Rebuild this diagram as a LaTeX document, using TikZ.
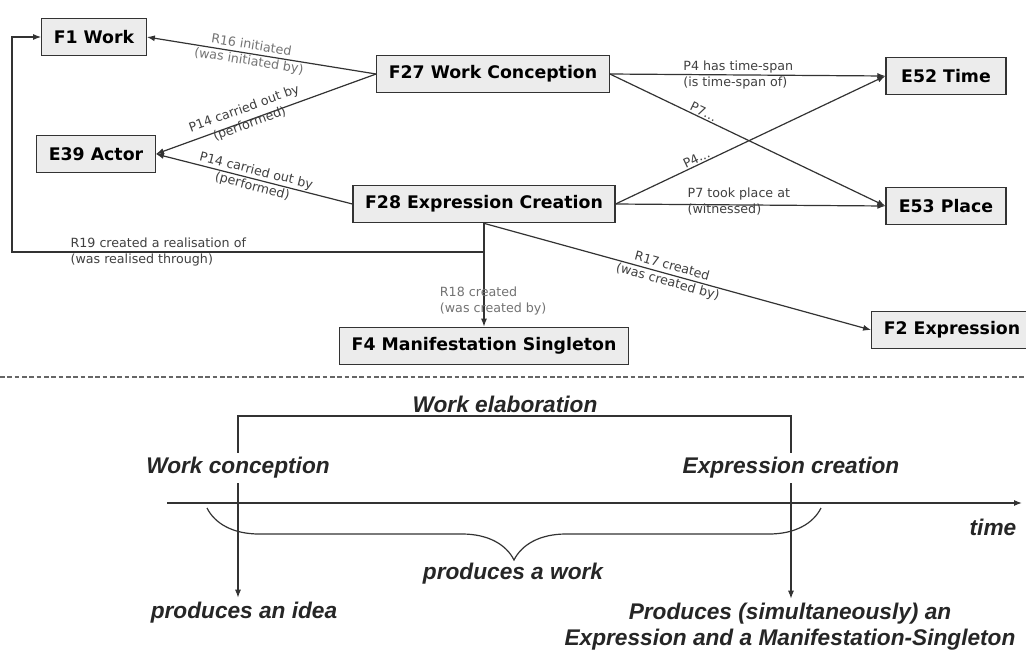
\documentclass[tikz,border=0pt]{standalone}
\usepackage{fontspec}
\usetikzlibrary{arrows.meta,decorations.pathreplacing}
\newfontfamily\boxfont{DejaVu Sans}
\newfontfamily\relfont{DejaVu Sans}
\newfontfamily\tlfont{Liberation Sans}

\begin{document}
\begin{tikzpicture}[x=0.75pt,y=-0.75pt,
  main/.style = {draw=black!80, fill=gray!15, line width=1pt, inner xsep=9pt, minimum height=28pt,
    font=\boxfont\bfseries\fontsize{13}{15}\selectfont},
  rel/.style = {font=\relfont\fontsize{9.5}{12}\selectfont, text=black!75, align=center, inner sep=1pt},
  tl/.style = {font=\tlfont\bfseries\itshape\fontsize{17}{19.5}\selectfont, text=black!85, align=center},
  con/.style = {draw=black!80, line width=0.9pt},
  >={Latex[length=6pt,width=4.5pt]}]
        \useasboundingbox (0,0) rectangle (1026,654);
        \fill[white] (0,0) rectangle (1026,654);
        \node[main] (f1) at (94,37) {F1 Work};
        \node[main] (e39) at (96,154) {E39 Actor};
        \node[main] (f27) at (493,74) {F27 Work Conception};
        \node[main] (f28) at (484,204) {F28 Expression Creation};
        \node[main, minimum width=90pt] (e52) at (946,76) {E52 Time};
        \node[main, minimum width=90pt] (e53) at (946,206) {E53 Place};
        \node[main] (f4) at (484,346) {F4 Manifestation Singleton};
        \node[main] (f2) at (952,330) {F2 Expression};
        \coordinate (r19) at (12,252);
        \draw[->, con] (f27.west) -- node[rel, sloped, pos=0.55, text=black!55] {R16 initiated\\(was initiated by)} (f1.east);
        \draw[->, con] (f27.west) -- node[rel, sloped, pos=0.58, yshift=3pt] {P14 carried out by\\(performed)} (e39.east);
        \draw[->, con] (f28.west) -- node[rel, sloped, pos=0.5] {P14 carried out by\\(performed)} (e39.east);
        \draw[->, con] (f27.east) -- node[rel, align=left, anchor=west, pos=0.26] {P4 has time-span\\(is time-span of)} (e52.west);
        \draw[->, con] (f27.east) -- node[rel, sloped, above, pos=0.33] {P7...} (e53.west);
        \draw[->, con] (f28.east) -- node[rel, sloped, above, pos=0.31] {P4...} (e52.west);
        \draw[->, con] (f28.east) -- node[rel, align=left, anchor=west, pos=0.26, yshift=2pt] {P7 took place at\\(witnessed)} (e53.west);
        \draw[->, con] (f28.south) -- node[rel, align=left, anchor=west, pos=0.75, xshift=-34.5pt, text=black!55] {R18 created\\(was created by)} (f4.north);
        \draw[->, con] (f28.south) -- node[rel, sloped, pos=0.48] {R17 created\\(was created by)} (f2.west);
        \draw[->, con] (f28.south) |- node[rel, align=left, anchor=west, pos=0.94] {R19 created a realisation of\\(was realised through)} (r19) |- (f1.west);
        \draw[black!60, line width=0.8pt, dash pattern=on 3.5pt off 2pt] (0,377) -- (1026,377);
        \node[tl] (we) at (505,404) {Work elaboration};
        \node[tl] (wc) at (238,468) {Work conception};
        \node[tl] (ec) at (791,468) {Expression creation};
        \node[tl] (pw) at (513,574) {produces a work};
        \node[tl] (pi) at (244,613) {produces an idea};
        \node[tl] (ps) at (790,627) {Produces (simultaneously) an\\Expression and a Manifestation-Singleton};
        \node[tl, anchor=east] (tm) at (1021,527) {time};
        \coordinate (top) at (505,416);
        \coordinate (t0) at (167,503);
        \coordinate (t1) at (1022,503);
        \coordinate (b0) at (207,508);
        \coordinate (b1) at (821,508);
        \draw[con] (wc.north) |- (top) -| (ec.north);
        \draw[->, con] (t0) -- (t1);
        \draw[con, decorate, decoration={brace, amplitude=39pt}] (b1) -- (b0);
        \draw[->, con] (wc.south) -- (wc.south |- pi.north);
        \draw[->, con] (ec.south) -- (ec.south |- ps.north);
\end{tikzpicture}
\end{document}
